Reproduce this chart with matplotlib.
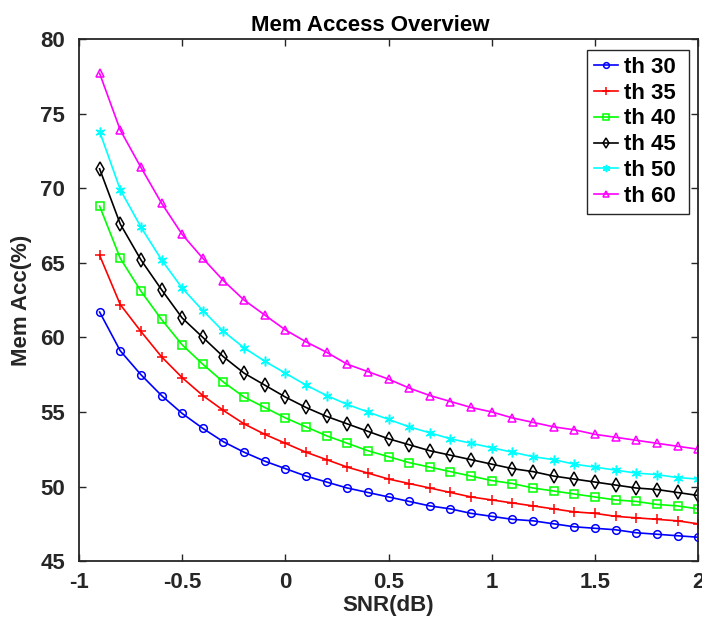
import numpy as np
import matplotlib.pyplot as plt

plt.rcParams['font.family'] = ['Liberation Sans', 'DejaVu Sans']
plt.rcParams['font.weight'] = 'bold'

snr = np.round(np.arange(-0.9, 2.01, 0.1), 1)

th30 = [61.7, 59.1, 57.5, 56.1, 54.9, 53.9, 53.0, 52.3, 51.7, 51.2, 50.7, 50.3, 49.9, 49.6, 49.3,
        49.0, 48.7, 48.5, 48.2, 48.0, 47.8, 47.7, 47.5, 47.3, 47.2, 47.1, 46.9, 46.8, 46.7, 46.6]
th35 = [65.5, 62.2, 60.4, 58.7, 57.3, 56.1, 55.1, 54.2, 53.5, 52.9, 52.3, 51.8, 51.3, 50.9, 50.5,
        50.2, 49.9, 49.6, 49.3, 49.1, 48.9, 48.7, 48.5, 48.3, 48.2, 48.0, 47.9, 47.8, 47.7, 47.5]
th40 = [68.8, 65.3, 63.1, 61.2, 59.5, 58.2, 57.0, 56.0, 55.3, 54.6, 54.0, 53.4, 52.9, 52.4, 52.0,
        51.6, 51.3, 51.0, 50.7, 50.4, 50.2, 49.9, 49.7, 49.5, 49.3, 49.1, 49.0, 48.8, 48.7, 48.5]
th45 = [71.3, 67.6, 65.2, 63.2, 61.3, 60.0, 58.7, 57.6, 56.8, 56.0, 55.3, 54.7, 54.2, 53.7, 53.2,
        52.8, 52.4, 52.1, 51.8, 51.5, 51.2, 51.0, 50.7, 50.5, 50.3, 50.1, 49.9, 49.8, 49.6, 49.4]
th50 = [73.8, 69.9, 67.4, 65.2, 63.3, 61.8, 60.4, 59.3, 58.4, 57.6, 56.8, 56.1, 55.5, 55.0, 54.5,
        54.0, 53.6, 53.2, 52.9, 52.6, 52.3, 52.0, 51.8, 51.5, 51.3, 51.1, 50.9, 50.8, 50.6, 50.5]
th60 = [77.7, 73.9, 71.4, 69.0, 66.9, 65.3, 63.8, 62.5, 61.5, 60.5, 59.7, 59.0, 58.2, 57.7, 57.2,
        56.6, 56.1, 55.7, 55.3, 55.0, 54.6, 54.3, 54.0, 53.8, 53.5, 53.3, 53.1, 52.9, 52.7, 52.5]

series = [('th 30', th30, '#0000ff', 'o'),
          ('th 35', th35, '#ff0000', '+'),
          ('th 40', th40, '#00ff00', 's'),
          ('th 45', th45, '#000000', 'd'),
          ('th 50', th50, '#00ffff', (6, 2, 0)),
          ('th 60', th60, '#ff00ff', '^')]

fig = plt.figure(figsize=(7.02, 6.2), dpi=100)
ax = fig.add_axes([0.1125, 0.095, 0.882, 0.842])

for name, y, c, m in series:
    ms = 7 if m in ('+', (6, 2, 0), 'd') else 5.5
    ax.plot(snr, y, color=c, marker=m, markersize=ms, fillstyle='none',
            markeredgewidth=1.1, linewidth=1.2, label=name)

ax.set_xlim(-1, 2)
ax.set_ylim(45, 80)
ax.set_xticks([-1, -0.5, 0, 0.5, 1, 1.5, 2])
ax.set_xticklabels(['-1', '-0.5', '0', '0.5', '1', '1.5', '2'])
ax.set_yticks(range(45, 81, 5))
ax.tick_params(direction='in', top=True, right=True, labelsize=16, length=5, width=1.0,
               color='#262626', labelcolor='#262626')
ax.tick_params(axis='y', pad=10)
ax.tick_params(axis='x', pad=8)
for s in ax.spines.values():
    s.set_color('#262626')
    s.set_linewidth(1.3)
for lab in ax.get_xticklabels() + ax.get_yticklabels():
    lab.set_fontweight('bold')

ax.set_xlabel('SNR(dB)', fontsize=16, fontweight='bold', labelpad=1, color='#262626')
ax.set_ylabel('Mem Acc(%)', fontsize=16, fontweight='bold', labelpad=6, color='#262626')
ax.set_title('Mem Access Overview', fontsize=16, fontweight='bold', pad=6, x=0.47)

leg = ax.legend(loc='upper left', bbox_to_anchor=(0.821, 0.979, 0.164, 0.0), mode='expand',
                fontsize=16, handlelength=1.1, handletextpad=0.25, borderpad=0.3,
                labelspacing=0.22, fancybox=False, framealpha=1, borderaxespad=0,
                markerscale=0.75)
leg.get_frame().set_edgecolor('#262626')
leg.get_frame().set_linewidth(1.0)
for t in leg.get_texts():
    t.set_fontweight('bold')

fig.savefig('out.png', dpi=100)
